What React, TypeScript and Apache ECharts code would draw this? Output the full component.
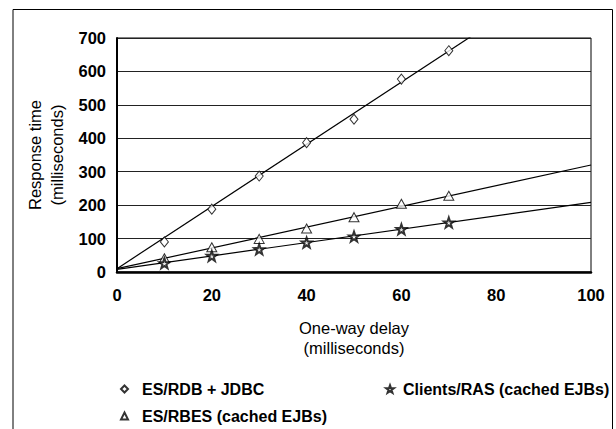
import React, { useEffect, useRef } from "react";
import * as echarts from "echarts";

const delays = [10, 20, 30, 40, 50, 60, 70];
const rdbJdbc = [90, 188, 287, 387, 457, 577, 662];
const rbesCached = [41, 74, 99, 130, 164, 204, 228];
const clientsRas = [26, 48, 68, 88, 106, 128, 148];

const trendX = [0, 100];
const rdbTrend = [10, 940];
const rbesTrend = [10, 320];
const clientsTrend = [8, 208];

const xTicks = { min: 0, max: 100, interval: 20 };
const yTicks = { min: 0, max: 700, interval: 100 };

const names = ["ES/RDB + JDBC", "ES/RBES (cached EJBs)", "Clients/RAS (cached EJBs)"];

const STAR =
  "path://M0,-10 L2.35,-3.24 L9.51,-3.09 L3.8,1.24 L5.88,8.09 L0,4 L-5.88,8.09 L-3.8,1.24 L-9.51,-3.09 L-2.35,-3.24 Z";

const pairs = (xs: number[], ys: number[]) => xs.map((x, i) => [x, ys[i]]);

export default function App() {
  const ref = useRef<HTMLDivElement>(null);
  useEffect(() => {
    document.body.style.margin = "0";
    const chart = echarts.init(ref.current!, null, { renderer: "svg" });
    const font = "Arial, 'Liberation Sans', sans-serif";
    const lineStyle = { color: "#000", width: 1.2 };
    const mkLegend = (name: string, left: number, top: number, size: number, pad: number) => ({
      data: [name],
      orient: "horizontal",
      left,
      top,
      itemWidth: size,
      itemHeight: size,
      textStyle: {
        fontSize: 16,
        fontWeight: "bold",
        color: "#000",
        fontFamily: font,
        padding: [0, 0, 0, pad],
      },
    });
    chart.setOption({
      animation: false,
      backgroundColor: "#fff",
      textStyle: { fontFamily: font },
      grid: {
        left: 117,
        top: 38,
        width: 474,
        height: 234,
        show: true,
        borderColor: "#000",
        borderWidth: 1,
        containLabel: false,
      },
      xAxis: {
        type: "value",
        ...xTicks,
        name: "One-way delay\n(milliseconds)",
        nameLocation: "middle",
        nameGap: 46,
        nameTextStyle: { fontSize: 16.5, color: "#000", fontFamily: font, lineHeight: 20 },
        axisLine: { show: true, lineStyle: { color: "#000", width: 2.5 } },
        axisTick: { show: false },
        splitLine: { show: false },
        axisLabel: { fontSize: 16.5, fontWeight: "bold", color: "#000", margin: 14, fontFamily: font },
      },
      yAxis: {
        type: "value",
        ...yTicks,
        name: "Response time\n(milliseconds)",
        nameLocation: "middle",
        nameRotate: 90,
        nameGap: 46,
        nameTextStyle: { fontSize: 16.5, color: "#000", fontFamily: font, lineHeight: 22 },
        axisLine: { show: true, lineStyle: { color: "#000", width: 2 } },
        axisTick: { show: false },
        splitLine: { show: true, lineStyle: { color: "#222", width: 1 } },
        axisLabel: { fontSize: 16.5, fontWeight: "bold", color: "#000", margin: 11, fontFamily: font },
      },
      legend: [
        mkLegend(names[0], 115, 376, 7, 9),
        mkLegend(names[1], 115, 403, 7, 9),
        mkLegend(names[2], 380, 376, 8, 4),
      ],
      graphic: [
        {
          type: "polyline",
          shape: { points: [[13, 429], [13, 9.5], [612.5, 9.5], [612.5, 429]] },
          style: { stroke: "#000", fill: "none", lineWidth: 1 },
          silent: true,
        },
      ],
      series: [
        {
          type: "line",
          name: "trend-rdb",
          data: pairs(trendX, rdbTrend),
          showSymbol: false,
          lineStyle,
          silent: true,
          clip: true,
          z: 1,
        },
        {
          type: "line",
          name: "trend-rbes",
          data: pairs(trendX, rbesTrend),
          showSymbol: false,
          lineStyle,
          silent: true,
          clip: true,
          z: 1,
        },
        {
          type: "line",
          name: "trend-clients",
          data: pairs(trendX, clientsTrend),
          showSymbol: false,
          lineStyle,
          silent: true,
          clip: true,
          z: 1,
        },
        {
          type: "scatter",
          name: names[0],
          data: pairs(delays, rdbJdbc),
          symbol: "diamond",
          symbolSize: [8, 10],
          itemStyle: { color: "#fff", borderColor: "#000", borderWidth: 1 },
          z: 3,
        },
        {
          type: "scatter",
          name: names[1],
          data: pairs(delays, rbesCached),
          symbol: "triangle",
          symbolSize: [10, 9],
          itemStyle: { color: "#fff", borderColor: "#000", borderWidth: 1 },
          z: 3,
        },
        {
          type: "scatter",
          name: names[2],
          data: pairs(delays, clientsRas),
          symbol: STAR,
          symbolSize: 10,
          itemStyle: { color: "#fff", borderColor: "#000", borderWidth: 2 },
          z: 3,
        },
      ],
    });
    return () => chart.dispose();
  }, []);
  return <div ref={ref} style={{ width: 616, height: 429 }} />;
}
